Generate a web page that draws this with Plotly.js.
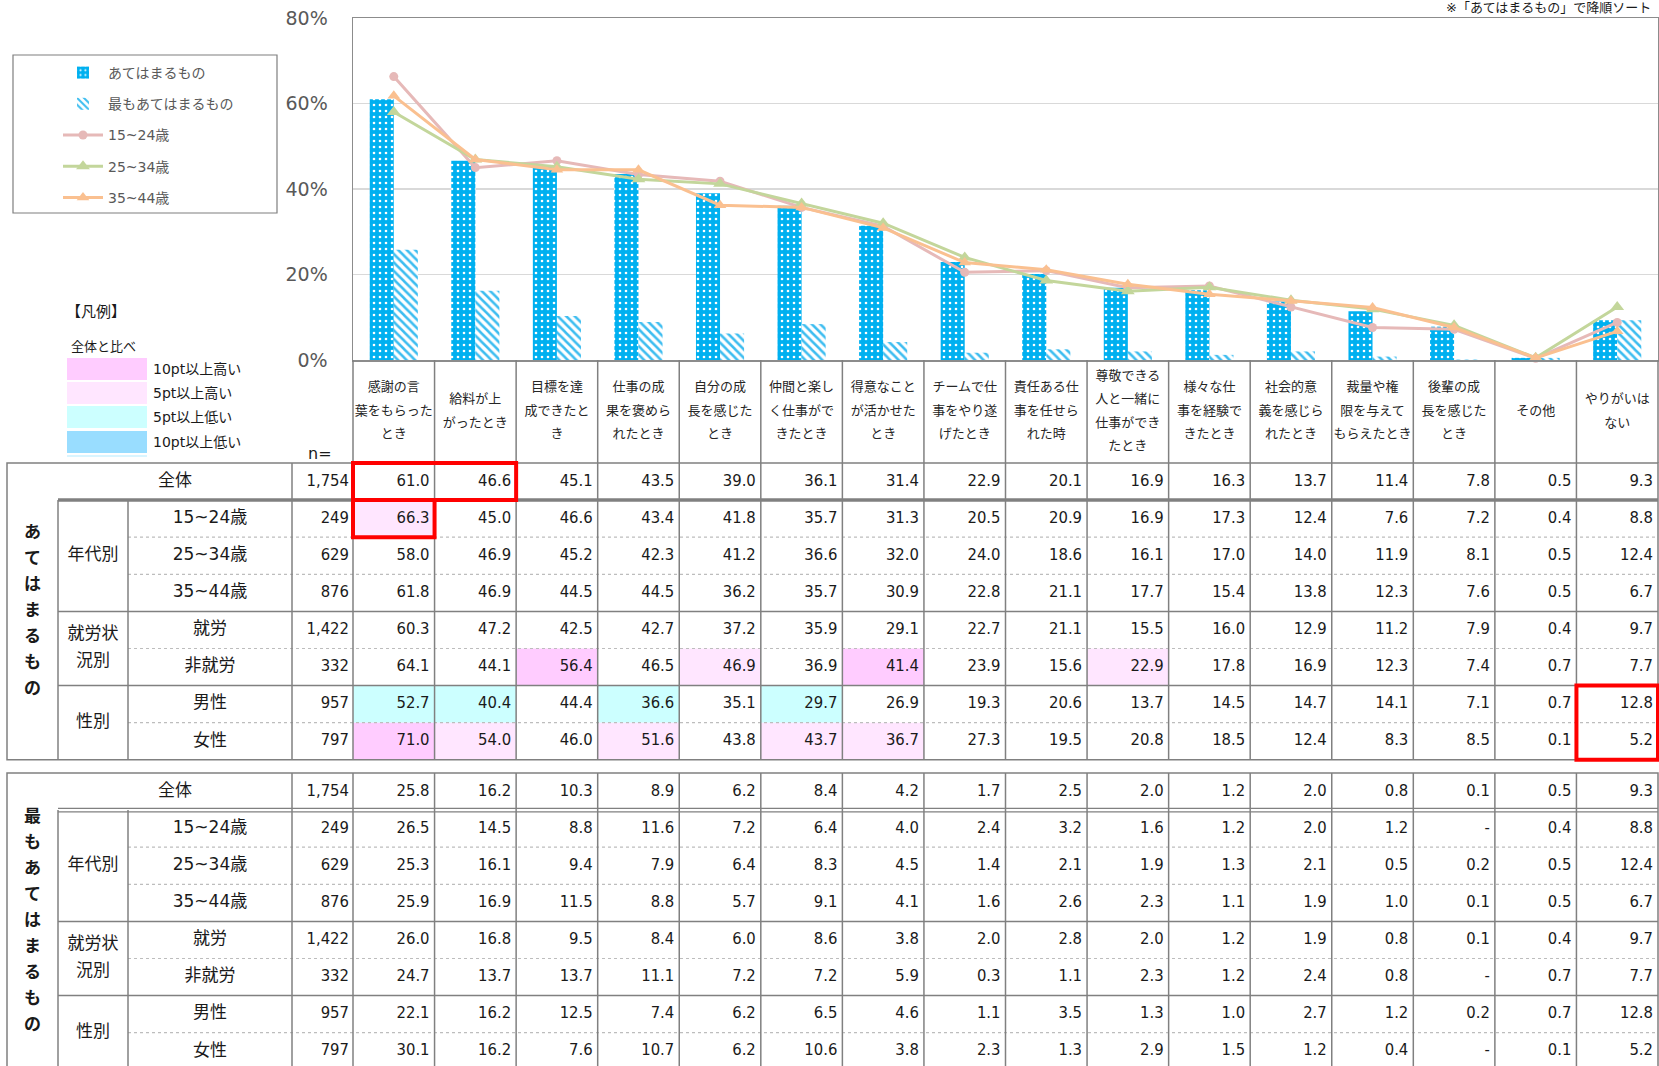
<!DOCTYPE html>
<html><head><meta charset="utf-8">
<script src="https://cdn.plot.ly/plotly-3.0.1.min.js"></script>
<style>html,body{margin:0;padding:0;background:#fff;overflow:hidden}#chart{width:1659px;height:1066px}</style>
</head><body><div id="chart"></div>
<script>
// ---------------- DATA ----------------
const categories = ['感謝の言<br>葉をもらった<br>とき','給料が上<br>がったとき','目標を達<br>成できたと<br>き','仕事の成<br>果を褒めら<br>れたとき','自分の成<br>長を感じた<br>とき','仲間と楽し<br>く仕事がで<br>きたとき','得意なこと<br>が活かせた<br>とき','チームで仕<br>事をやり遂<br>げたとき','責任ある仕<br>事を任せら<br>れた時','尊敬できる<br>人と一緒に<br>仕事ができ<br>たとき','様々な仕<br>事を経験で<br>きたとき','社会的意<br>義を感じら<br>れたとき','裁量や権<br>限を与えて<br>もらえたとき','後輩の成<br>長を感じた<br>とき','その他','やりがいは<br>ない'];
const rowLabels = ['全体','15~24歳','25~34歳','35~44歳','就労','非就労','男性','女性'];
const nValues = [1754,249,629,876,1422,332,957,797];
const groupLabels = ['あてはまるもの','最もあてはまるもの'];
const subgroupLabels = [['年代別'],['就労状','況別'],['性別']];
const seriesNames = ['あてはまるもの','最もあてはまるもの','15~24歳','25~34歳','35~44歳'];
const legendKeyLabels = ['10pt以上高い','5pt以上高い','5pt以上低い','10pt以上低い'];

const fitAll        = [61.0,46.6,45.1,43.5,39.0,36.1,31.4,22.9,20.1,16.9,16.3,13.7,11.4,7.8,0.5,9.3];
const fit1524       = [66.3,45.0,46.6,43.4,41.8,35.7,31.3,20.5,20.9,16.9,17.3,12.4,7.6,7.2,0.4,8.8];
const fit2534       = [58.0,46.9,45.2,42.3,41.2,36.6,32.0,24.0,18.6,16.1,17.0,14.0,11.9,8.1,0.5,12.4];
const fit3544       = [61.8,46.9,44.5,44.5,36.2,35.7,30.9,22.8,21.1,17.7,15.4,13.8,12.3,7.6,0.5,6.7];
const fitWorking    = [60.3,47.2,42.5,42.7,37.2,35.9,29.1,22.7,21.1,15.5,16.0,12.9,11.2,7.9,0.4,9.7];
const fitNotWorking = [64.1,44.1,56.4,46.5,46.9,36.9,41.4,23.9,15.6,22.9,17.8,16.9,12.3,7.4,0.7,7.7];
const fitMale       = [52.7,40.4,44.4,36.6,35.1,29.7,26.9,19.3,20.6,13.7,14.5,14.7,14.1,7.1,0.7,12.8];
const fitFemale     = [71.0,54.0,46.0,51.6,43.8,43.7,36.7,27.3,19.5,20.8,18.5,12.4,8.3,8.5,0.1,5.2];

const mostAll        = [25.8,16.2,10.3,8.9,6.2,8.4,4.2,1.7,2.5,2.0,1.2,2.0,0.8,0.1,0.5,9.3];
const most1524       = [26.5,14.5,8.8,11.6,7.2,6.4,4.0,2.4,3.2,1.6,1.2,2.0,1.2,null,0.4,8.8];
const most2534       = [25.3,16.1,9.4,7.9,6.4,8.3,4.5,1.4,2.1,1.9,1.3,2.1,0.5,0.2,0.5,12.4];
const most3544       = [25.9,16.9,11.5,8.8,5.7,9.1,4.1,1.6,2.6,2.3,1.1,1.9,1.0,0.1,0.5,6.7];
const mostWorking    = [26.0,16.8,9.5,8.4,6.0,8.6,3.8,2.0,2.8,2.0,1.2,1.9,0.8,0.1,0.4,9.7];
const mostNotWorking = [24.7,13.7,13.7,11.1,7.2,7.2,5.9,0.3,1.1,2.3,1.2,2.4,0.8,null,0.7,7.7];
const mostMale       = [22.1,16.2,12.5,7.4,6.2,6.5,4.6,1.1,3.5,1.3,1.0,2.7,1.2,0.2,0.7,12.8];
const mostFemale     = [30.1,16.2,7.6,10.7,6.2,10.6,3.8,2.3,1.3,2.9,1.5,1.2,0.4,null,0.1,5.2];

const yTicks = [0,20,40,60,80];
const yTickText = ['0%','20%','40%','60%','80%'];
// cells outlined in red: table, first/last row, first/last column
const redBoxes = [{t:0,r0:0,r1:0,c0:0,c1:1},{t:0,r0:1,r1:1,c0:0,c1:0},{t:0,r0:6,r1:7,c0:15,c1:15}];

// ---------------- LAYOUT GEOMETRY ----------------
const W=1659, H=1066;
const plotL=353, plotR=1658, plotT=18, plotB=360, headB=463;
const nCols = categories.length;
const colW=(plotR-plotL)/nCols;
const rowH=37.1;
const tableTops=[463, 773];
const gL=7, sgL=58, lbL=128, nL=292;
const px2x = p => (p-plotL)/colW - 0.5;
const tables = [
  [fitAll,fit1524,fit2534,fit3544,fitWorking,fitNotWorking,fitMale,fitFemale],
  [mostAll,most1524,most2534,most3544,mostWorking,mostNotWorking,mostMale,mostFemale]
];
const subgroupRows = [[1,3],[4,5],[6,7]];
const GRID='#808080';
const JP = 'Noto Sans CJK JP';
const MIX = 'DejaVu Sans, Noto Sans CJK JP';
const NUM = 'DejaVu Sans Condensed, DejaVu Sans';
const TXT = '#1a1a1a';

const traces = [];
// bars
traces.push({type:'bar', x:categories, y:fitAll, name:seriesNames[0], legendgroup:'g1',
  marker:{color:'#00B0F0', line:{width:0}, pattern:{shape:'.', fgcolor:'#ffffff', bgcolor:'#00B0F0', size:6, solidity:0.15}}, hoverinfo:'skip'});
traces.push({type:'bar', x:categories, y:mostAll, name:seriesNames[1], legendgroup:'g2',
  marker:{color:'#3DBDF0', line:{width:0}, pattern:{shape:'\\', fgcolor:'#3DBDF0', bgcolor:'#ffffff', size:6, solidity:0.42}}, hoverinfo:'skip'});
// lines
const lineStyles = [
  {data:fit1524, color:'#E6B9B8', symbol:'circle', size:9},
  {data:fit2534, color:'#C3D69B', symbol:'triangle-up', size:12},
  {data:fit3544, color:'#FAC090', symbol:'triangle-up', size:11}
];
lineStyles.forEach((s,i)=>{
  traces.push({type:'scatter', mode:'lines+markers', x:categories, y:s.data, name:seriesNames[i+2], legendgroup:'g'+(i+3),
    line:{color:s.color, width:3}, marker:{color:s.color, symbol:s.symbol, size:s.size}, cliponaxis:false, hoverinfo:'skip'});
});

function textTrace(xs, ys, texts, font, pos){
  return {type:'scatter', mode:'text', xaxis:'x2', yaxis:'y2', x:xs, y:ys, text:texts,
    textfont:font, textposition:pos, showlegend:false, hoverinfo:'skip', cliponaxis:false};
}
const fmt = v => v===null ? '-' : v.toFixed(1);

// header labels
{
  const xs=[], ys=[], tx=[];
  const cy=(plotB+headB)/2, sp=23.5;
  categories.forEach((c,k)=>{
    const lines=c.split('<br>');
    lines.forEach((ln,i)=>{ xs.push(k); ys.push(cy+(i-(lines.length-1)/2)*sp); tx.push(ln); });
  });
  traces.push(textTrace(xs,ys,tx,{family:JP,size:13,color:'#262626'},'middle center'));
}

const shapes = [];
const annotations = [];
function hline(x0p,x1p,y,opt){ shapes.push(Object.assign({type:'line', xref:'x2', yref:'y2', x0:px2x(x0p), x1:px2x(x1p), y0:y, y1:y, line:{color:GRID,width:1.5}, layer:'above'}, opt||{})); }
function vline(xp,y0,y1,opt){ shapes.push(Object.assign({type:'line', xref:'x2', yref:'y2', x0:px2x(xp), x1:px2x(xp), y0:y0, y1:y1, line:{color:GRID,width:1.5}, layer:'above'}, opt||{})); }

// header vertical lines
for(let k=0;k<=nCols;k++) vline(plotL+k*colW, plotB, headB);

tables.forEach((rows,t)=>{
  const top=tableTops[t], bot=top+rows.length*rowH;
  const base=rows[0];
  // backgrounds
  rows.forEach((vals,r)=>{
    if(r===0) return;
    vals.forEach((v,k)=>{
      if(v===null||base[k]===null) return;
      const d=Math.round((v-base[k])*10)/10;
      let col=null;
      if(d>=10) col='#FFCCFF'; else if(d>=5) col='#FFE6FF'; else if(d<=-10) col='#99DDFF'; else if(d<=-5) col='#CCFFFF';
      if(col) shapes.push({type:'rect', xref:'x2', yref:'y2', x0:k-0.5, x1:k+0.5, y0:top+r*rowH, y1:top+(r+1)*rowH, fillcolor:col, line:{width:0}, layer:'below'});
    });
  });
  // numbers
  const xs=[], ys=[], tx=[];
  rows.forEach((vals,r)=>vals.forEach((v,k)=>{ xs.push(k+0.5-5/colW); ys.push(top+(r+0.5)*rowH); tx.push(fmt(v)); }));
  traces.push(textTrace(xs,ys,tx,{family:NUM,size:16.5,color:TXT},'middle left'));
  // n values
  traces.push(textTrace(nValues.map(()=>px2x(plotL-4)), nValues.map((n,r)=>top+(r+0.5)*rowH),
    nValues.map(n=>n.toLocaleString('en-US')), {family:NUM,size:16.5,color:TXT},'middle left'));
  // row labels
  traces.push(textTrace(rowLabels.map((s,r)=>r===0?px2x((sgL+nL)/2):px2x((lbL+nL)/2)), rowLabels.map((s,r)=>top+(r+0.5)*rowH),
    rowLabels, {family:MIX,size:17,color:TXT},'middle center'));
  // subgroup labels
  {
    const sx=[], sy=[], st=[];
    subgroupLabels.forEach((lines,g)=>{
      const [r0,r1]=subgroupRows[g];
      const cy=top+((r0+r1+1)/2)*rowH;
      lines.forEach((ln,i)=>{ sx.push(px2x((sgL+lbL)/2)); sy.push(cy+(i-(lines.length-1)/2)*27); st.push(ln); });
    });
    traces.push(textTrace(sx,sy,st,{family:JP,size:17,color:TXT},'middle center'));
  }
  // group vertical label
  {
    const chars=[...groupLabels[t]];
    const cy=(top+bot)/2;
    traces.push(textTrace(chars.map(()=>px2x((gL+sgL)/2)), chars.map((c,i)=>cy+(i-(chars.length-1)/2)*26), chars,
      {family:JP,size:17,color:TXT,weight:'bold'},'middle center'));
  }
  // borders
  shapes.push({type:'rect', xref:'x2', yref:'y2', x0:px2x(gL), x1:px2x(plotR), y0:top, y1:bot, line:{color:GRID,width:1.5}, layer:'above'});
  if(t===0) hline(sgL,plotR,top+rowH,{line:{color:GRID,width:3.5}});
  else { hline(sgL,plotR,top+rowH-1.8,{line:{color:GRID,width:1.2}}); hline(sgL,plotR,top+rowH+1.8,{line:{color:GRID,width:1.2}}); }
  subgroupRows.forEach(([r0,r1],g)=>{
    if(g>0) hline(sgL,plotR,top+r0*rowH);
    for(let r=r0+1;r<=r1;r++) hline(lbL,plotR,top+r*rowH,{line:{color:'#BDBDBD',width:1.2,dash:'dot'}});
  });
  vline(sgL,top+rowH,bot); vline(lbL,top+rowH,bot); vline(nL,top,bot);
  for(let k=0;k<nCols;k++) vline(plotL+k*colW,top,bot);
});

// red boxes
redBoxes.forEach(b=>{
  const top=tableTops[b.t];
  shapes.push({type:'rect', xref:'x2', yref:'y2', x0:b.c0-0.5, x1:b.c1+0.5, y0:top+b.r0*rowH, y1:top+(b.r1+1)*rowH, line:{color:'#FF0000',width:4}, layer:'above'});
});

// legend frame + key
shapes.push({type:'rect', xref:'x2', yref:'y2', x0:px2x(13), x1:px2x(277), y0:55, y1:213, line:{color:'#7F7F7F',width:1.2}, layer:'above'});
const keyColors=['#FFCCFF','#FFE6FF','#CCFFFF','#99DDFF'];
const keyTops=[358,382,406,431];
keyColors.forEach((c,i)=>{
  shapes.push({type:'rect', xref:'x2', yref:'y2', x0:px2x(67), x1:px2x(147), y0:keyTops[i], y1:keyTops[i]+22, fillcolor:c, line:{width:0}, layer:'below'});
  annotations.push({xref:'x2', yref:'y2', x:px2x(151), y:keyTops[i]+11, text:legendKeyLabels[i], showarrow:false, xanchor:'left', yanchor:'middle', font:{family:MIX,size:14,color:TXT}});
});
shapes.push({type:'line', xref:'x2', yref:'y2', x0:px2x(67), x1:px2x(147), y0:456, y1:456, line:{color:'#CCF2FF',width:1.5}, layer:'below'});
annotations.push({xref:'x2', yref:'y2', x:px2x(64), y:310, text:'【凡例】', showarrow:false, xanchor:'left', yanchor:'middle', font:{family:JP,size:15,color:TXT}});
annotations.push({xref:'x2', yref:'y2', x:px2x(69), y:345, text:'全体と比べ', showarrow:false, xanchor:'left', yanchor:'middle', font:{family:JP,size:13,color:TXT}});
annotations.push({xref:'x2', yref:'y2', x:px2x(334), y:453, text:'n=', showarrow:false, xanchor:'right', yanchor:'middle', font:{family:'DejaVu Sans',size:16,color:TXT}});
annotations.push({xref:'paper', yref:'paper', x:1653/W, y:1-8/H, text:'※「あてはまるもの」で降順ソート', showarrow:false, xanchor:'right', yanchor:'middle', font:{family:MIX,size:13,color:TXT}});

const layout = {
  width:W, height:H, margin:{l:0,r:0,t:0,b:0,pad:0},
  paper_bgcolor:'#ffffff', plot_bgcolor:'rgba(0,0,0,0)',
  font:{family:MIX, color:TXT},
  barmode:'group', bargap:0.41, bargroupgap:0,
  showlegend:true,
  legend:{x:58/W, y:1-57/H, xanchor:'left', yanchor:'top', bgcolor:'rgba(0,0,0,0)', borderwidth:0,
    font:{family:MIX,size:14,color:'#595959'}, tracegroupgap:10, traceorder:'grouped', itemwidth:40},
  xaxis:{domain:[plotL/W, plotR/W], type:'category', range:[-0.5,nCols-0.5], showticklabels:false, ticks:'',
    showgrid:false, zeroline:false, showline:true, mirror:true, linecolor:'#8C8C8C', linewidth:1.5, fixedrange:true},
  yaxis:{domain:[1-plotB/H, 1-plotT/H], range:[0,80], tickmode:'array', tickvals:yTicks, ticktext:yTickText, showgrid:true, gridcolor:'#D9D9D9', gridwidth:1.5,
    zeroline:false, showline:true, mirror:true, linecolor:'#8C8C8C', linewidth:1.5, ticks:'', ticklabelstandoff:20,
    tickfont:{family:'DejaVu Sans',size:19,color:'#595959'}, fixedrange:true},
  xaxis2:{domain:[0,1], anchor:'y2', range:[px2x(0), px2x(W)], visible:false, fixedrange:true},
  yaxis2:{domain:[0,1], anchor:'x2', range:[H,0], visible:false, fixedrange:true},
  shapes:shapes, annotations:annotations
};
Plotly.newPlot('chart', traces, layout, {staticPlot:true, displayModeBar:false});
</script></body></html>
